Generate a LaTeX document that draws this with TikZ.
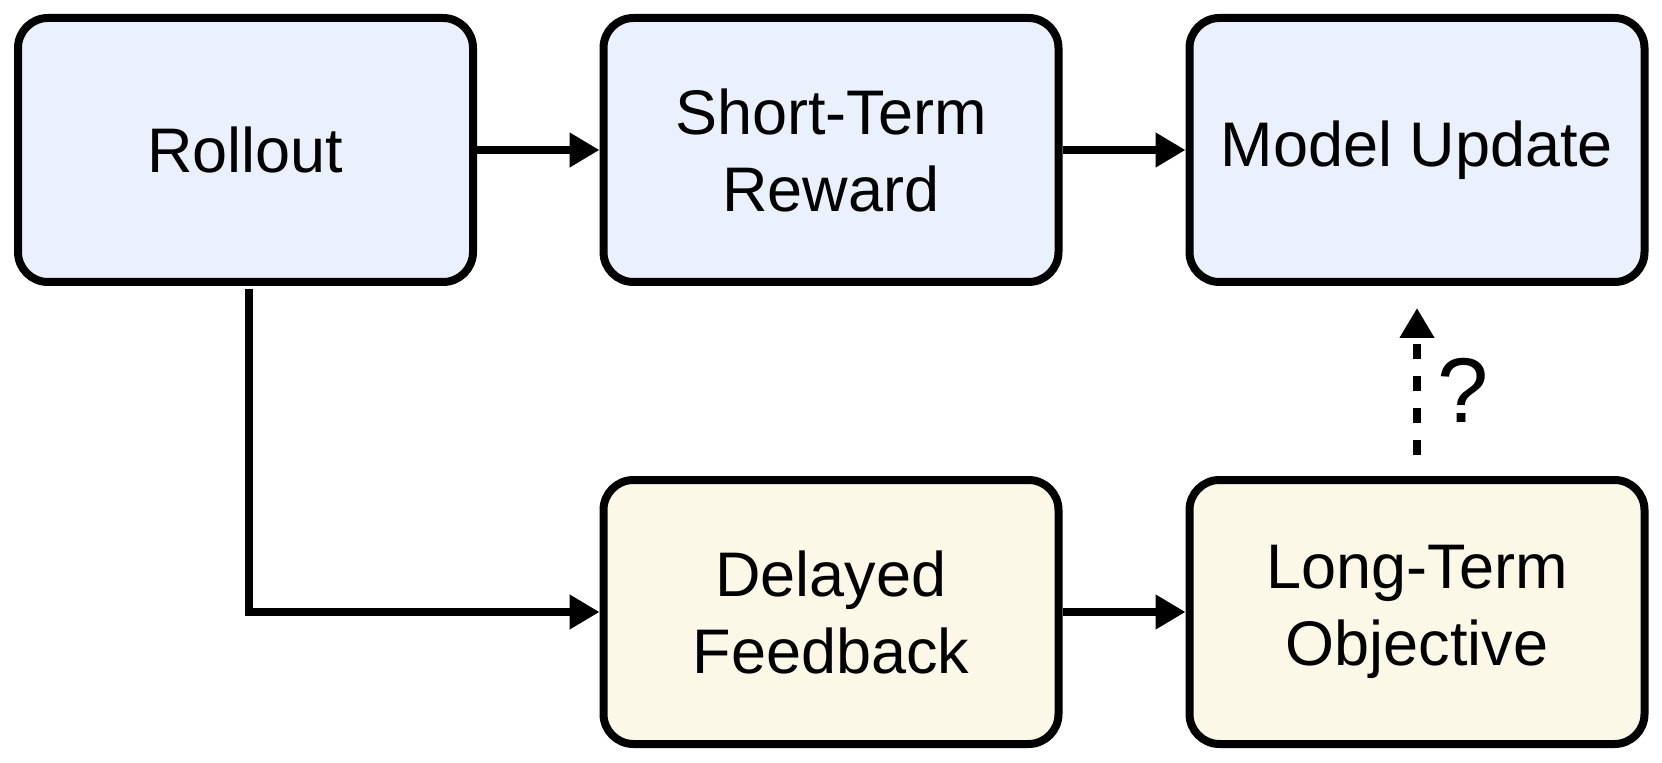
\documentclass[tikz,border=0pt]{standalone}
\usepackage{fontspec}
\setmainfont{Liberation Sans}
\usepackage{tikz}
\usetikzlibrary{arrows.meta,calc}
\definecolor{shortfill}{RGB}{234,240,252}
\definecolor{longfill}{RGB}{252,248,232}

\begin{document}
\begin{tikzpicture}[x=0.5pt,y=0.5pt,
    every node/.style={draw=black,line width=4pt,rounded corners=15pt,align=center,
        minimum width=227.5pt,minimum height=132pt,inner sep=0pt,
        font=\fontsize{31.5}{38.5}\selectfont},
    bluebox/.style={fill=shortfill},
    sandbox/.style={fill=longfill},
    flow/.style={line width=4pt,-{Triangle[length=15pt,width=16.5pt]}}]

            % Fix the page to the reference proportions
            \useasboundingbox (0,0) rectangle (1662,762);

            % Short-term row
            \node[bluebox] (bRollout) at (245.5,612) {Rollout};
            \node[bluebox] (bShort) at (831,612) {Short-Term\\Reward};
            \node[bluebox] (bUpdate) at (1417,612) {Model Update};

            % Long-term row
            \node[sandbox] (bDelayed) at (831,150) {Delayed\\Feedback};
            \node[sandbox] (bLong) at (1417,150) {Long-Term\\Objective};

            \draw[flow] (bRollout) -- (bShort);
            \draw[flow] (bShort) -- (bUpdate);
            \draw[flow] ([xshift=1.75pt,yshift=-1.5pt]bRollout.south) |- (bDelayed.west);
            \draw[flow] (bDelayed) -- (bLong);
            \draw[flow,dash pattern=on 7.5pt off 8.5pt,shorten <=10.5pt,shorten >=11pt]
                (bLong.north) -- (bUpdate.south)
                node[midway,right,draw=none,minimum width=0pt,minimum height=0pt,
                    inner sep=0pt,xshift=8pt,yshift=-4.5pt,font=\fontsize{46}{46}\selectfont] (qMark) {?};

\end{tikzpicture}
\end{document}
